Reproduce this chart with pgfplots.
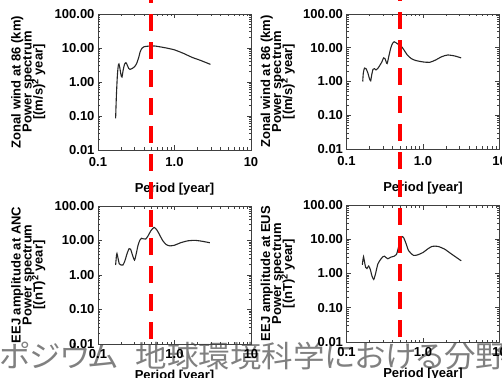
\documentclass[border=0pt]{standalone}
\usepackage{fontspec}
\setmainfont{Liberation Sans}
\newfontfamily\jpfont[RawFeature=+palt]{Noto Sans CJK JP}
\usepackage{graphicx}
\usepackage{pgfplots}
\pgfplotsset{compat=1.18}

\pgfplotstableread{
x y
0.170 0.085
0.174 0.4
0.179 1.5
0.184 3.0
0.188 3.4
0.193 2.6
0.200 1.6
0.206 1.4
0.213 2.2
0.222 3.3
0.232 3.7
0.242 3.1
0.252 2.5
0.262 2.35
0.280 2.5
0.300 2.8
0.320 3.5
0.340 5.2
0.355 7.6
0.375 9.8
0.400 10.9
0.450 11.3
0.500 11.5
0.560 11.4
0.650 10.8
0.800 9.9
1.00 8.8
1.30 7.0
1.70 5.3
2.20 4.3
2.95 3.3
}\tabA

\pgfplotstableread{
x y
0.163 1.0
0.166 1.8
0.172 2.5
0.180 2.4
0.190 1.8
0.200 1.2
0.207 1.05
0.214 1.6
0.222 2.3
0.232 2.4
0.243 2.2
0.255 2.4
0.270 2.9
0.290 3.8
0.305 5.0
0.318 4.8
0.330 3.8
0.340 3.4
0.360 6.0
0.380 10.0
0.400 13.5
0.420 15.0
0.445 14.0
0.470 12.8
0.500 12.0
0.530 10.5
0.570 8.3
0.620 6.2
0.700 4.8
0.800 4.2
1.00 3.8
1.22 3.7
1.45 4.3
1.75 5.4
2.10 6.1
2.60 5.7
3.15 5.0
}\tabB

\pgfplotstableread{
x y
0.170 1.95
0.174 3.5
0.177 4.2
0.182 3.2
0.190 2.1
0.200 1.95
0.212 1.95
0.225 2.6
0.240 4.2
0.255 5.8
0.267 5.6
0.280 4.0
0.300 2.7
0.315 4.0
0.335 7.5
0.355 10.5
0.370 11.6
0.390 11.2
0.420 11.0
0.450 13.5
0.490 19.0
0.540 24.0
0.590 20.0
0.640 14.5
0.700 10.0
0.780 7.6
0.870 7.0
1.00 7.3
1.20 8.6
1.50 9.8
1.85 10.1
2.30 9.5
2.90 8.6
}\tabC

\pgfplotstableread{
x y
0.161 1.8
0.164 2.5
0.167 3.1
0.172 2.2
0.178 1.5
0.185 1.4
0.195 1.65
0.205 1.3
0.215 0.85
0.227 0.67
0.240 1.0
0.257 1.9
0.280 2.6
0.300 3.1
0.314 3.2
0.330 2.9
0.347 2.7
0.380 3.0
0.420 3.2
0.450 3.6
0.470 5.0
0.500 9.0
0.530 12.0
0.560 11.0
0.600 7.5
0.650 4.6
0.750 3.4
0.850 3.5
1.00 4.1
1.15 5.2
1.32 6.2
1.56 6.2
1.90 5.2
2.40 3.6
3.16 2.35
}\tabD

\newcommand{\labfont}{\bfseries\fontsize{13}{11}\selectfont\lineskiplimit=-20pt\relax}
\newcommand{\tkfont}{\bfseries\fontsize{13}{13}\selectfont}

\begin{document}
\begin{tikzpicture}
\useasboundingbox (0,0) rectangle (502pt,377pt);
\clip (0,0) rectangle (502pt,377pt);

\node[anchor=base west, inner sep=0pt, text=black!50] at (-1pt,10pt)
  {\scalebox{1.05}[1]{\jpfont\fontsize{30}{30}\selectfont ポジウム\hspace{0.55em}地球環境科学における分野}};

% top left
\begin{axis}[at={(98pt,227pt)}, anchor=south west, scale only axis, width=153pt, height=136pt,
  xmode=log, ymode=log, xmin=0.1, xmax=10, ymin=0.01, ymax=100,
  xtick={0.1,1,10}, xticklabels={0.1,1.0,10},
  ytick={0.01,0.1,1,10,100}, yticklabels={0.01,0.10,1.00,10.00,100.00},
  minor xtick={0.2,0.3,0.4,0.5,0.6,0.7,0.8,0.9,2,3,4,5,6,7,8,9},
  minor ytick={0.02,0.03,0.04,0.05,0.06,0.07,0.08,0.09,0.2,0.3,0.4,0.5,0.6,0.7,0.8,0.9,2,3,4,5,6,7,8,9,20,30,40,50,60,70,80,90},
  tick align=inside, major tick length=4.5pt, minor tick length=2.5pt,
  axis line style={black!75, line width=0.9pt}, tick style={black!75, line width=0.7pt},
  ticklabel style={font=\tkfont}, xticklabel style={yshift=-4pt},
  ylabel style={at={(axis description cs:-0.455,0.5)}, anchor=center, align=center, inner sep=0pt, font=\labfont},
  xlabel style={at={(axis description cs:0.5,-0.29)}, anchor=center, inner sep=0pt, font=\tkfont},
  xlabel={Period [year]},
  ylabel={Zonal wind at 86 (km)\\Power spectrum\\{[}(m/s)\textsuperscript{2} year{]}}]
\addplot[black!85, line width=1.1pt, smooth, tension=0.4] table[x=x,y=y] {\tabA};
\end{axis}

% top right
\begin{axis}[at={(346.5pt,228pt)}, anchor=south west, scale only axis, width=153pt, height=135pt,
  xmode=log, ymode=log, xmin=0.1, xmax=10, ymin=0.01, ymax=100,
  xtick={0.1,1,10}, xticklabels={0.1,1.0,10},
  ytick={0.01,0.1,1,10,100}, yticklabels={0.01,0.10,1.00,10.00,100.00},
  minor xtick={0.2,0.3,0.4,0.5,0.6,0.7,0.8,0.9,2,3,4,5,6,7,8,9},
  minor ytick={0.02,0.03,0.04,0.05,0.06,0.07,0.08,0.09,0.2,0.3,0.4,0.5,0.6,0.7,0.8,0.9,2,3,4,5,6,7,8,9,20,30,40,50,60,70,80,90},
  tick align=inside, major tick length=4.5pt, minor tick length=2.5pt,
  axis line style={black!75, line width=0.9pt}, tick style={black!75, line width=0.7pt},
  ticklabel style={font=\tkfont}, xticklabel style={yshift=-4pt},
  ylabel style={at={(axis description cs:-0.45,0.5)}, anchor=center, align=center, inner sep=0pt, font=\labfont},
  xlabel style={at={(axis description cs:0.5,-0.29)}, anchor=center, inner sep=0pt, font=\tkfont},
  xlabel={Period [year]},
  ylabel={Zonal wind at 86 (km)\\Power spectrum\\{[}(m/s)\textsuperscript{2} year{]}}]
\addplot[black!85, line width=1.1pt, smooth, tension=0.4] table[x=x,y=y] {\tabB};
\end{axis}

% bottom left
\begin{axis}[at={(98pt,33pt)}, anchor=south west, scale only axis, width=153pt, height=138pt, clip=false,
  xmode=log, ymode=log, xmin=0.1, xmax=10, ymin=0.01, ymax=100,
  xtick={0.1,1,10}, xticklabels={0.1,1.0,10},
  ytick={0.01,0.1,1,10,100}, yticklabels={0.01,0.10,1.00,10.00,100.00},
  minor xtick={0.2,0.3,0.4,0.5,0.6,0.7,0.8,0.9,2,3,4,5,6,7,8,9},
  minor ytick={0.02,0.03,0.04,0.05,0.06,0.07,0.08,0.09,0.2,0.3,0.4,0.5,0.6,0.7,0.8,0.9,2,3,4,5,6,7,8,9,20,30,40,50,60,70,80,90},
  tick align=inside, major tick length=4.5pt, minor tick length=2.5pt,
  axis line style={black!75, line width=0.9pt}, tick style={black!75, line width=0.7pt},
  ticklabel style={font=\tkfont}, xticklabel style={yshift=-2pt},
  ylabel style={at={(axis description cs:-0.455,0.5)}, anchor=center, align=center, inner sep=0pt, font=\labfont},
  xlabel style={at={(axis description cs:0.5,-0.232)}, anchor=center, inner sep=0pt, font=\tkfont},
  xlabel={Period [year]},
  ylabel={EEJ amplitude at ANC\\Power spectrum\\{[}(nT)\textsuperscript{2} year{]}}]
\addplot[black!85, line width=1.1pt, smooth, tension=0.4] table[x=x,y=y] {\tabC};
\addplot[red, line width=4pt, dash pattern=on 17pt off 11pt, dash phase=23pt] coordinates {(0.5,0.01) (0.5,1e8)};
\end{axis}

% bottom right
\begin{axis}[at={(346.5pt,35pt)}, anchor=south west, scale only axis, width=153pt, height=137pt, clip=false,
  xmode=log, ymode=log, xmin=0.1, xmax=10, ymin=0.01, ymax=100,
  xtick={0.1,1,10}, xticklabels={0.1,1.0,10},
  ytick={0.01,0.1,1,10,100}, yticklabels={0.01,0.10,1.00,10.00,100.00},
  minor xtick={0.2,0.3,0.4,0.5,0.6,0.7,0.8,0.9,2,3,4,5,6,7,8,9},
  minor ytick={0.02,0.03,0.04,0.05,0.06,0.07,0.08,0.09,0.2,0.3,0.4,0.5,0.6,0.7,0.8,0.9,2,3,4,5,6,7,8,9,20,30,40,50,60,70,80,90},
  tick align=inside, major tick length=4.5pt, minor tick length=2.5pt,
  axis line style={black!75, line width=0.9pt}, tick style={black!75, line width=0.7pt},
  ticklabel style={font=\tkfont}, xticklabel style={yshift=-2pt},
  ylabel style={at={(axis description cs:-0.45,0.5)}, anchor=center, align=center, inner sep=0pt, font=\labfont},
  xlabel style={at={(axis description cs:0.5,-0.232)}, anchor=center, inner sep=0pt, font=\tkfont},
  xlabel={Period [year]},
  ylabel={EEJ amplitude at EUS\\Power spectrum\\{[}(nT)\textsuperscript{2} year{]}}]
\addplot[black!85, line width=1.1pt, smooth, tension=0.4] table[x=x,y=y] {\tabD};
\addplot[red, line width=4pt, dash pattern=on 17pt off 11pt, dash phase=23pt] coordinates {(0.5,0.01) (0.5,1e8)};
\end{axis}
\end{tikzpicture}
\end{document}
